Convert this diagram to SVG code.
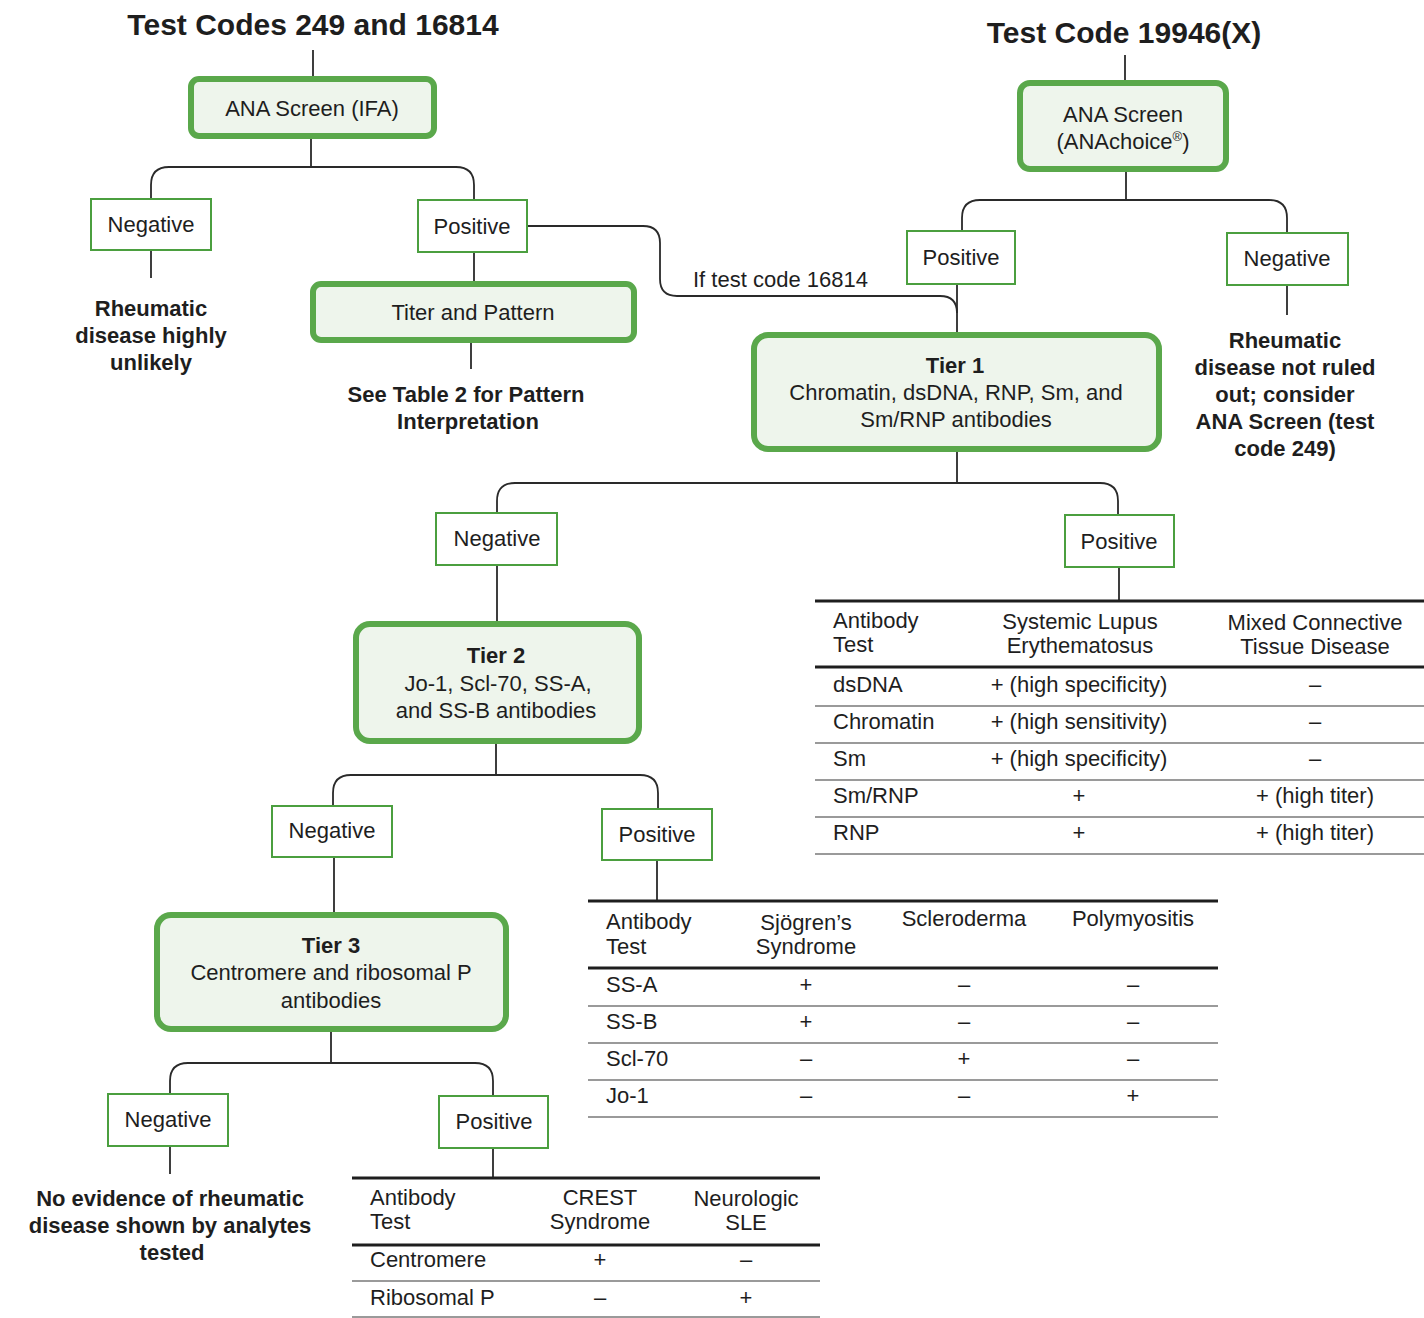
<svg xmlns="http://www.w3.org/2000/svg" width="1424" height="1318" viewBox="0 0 1424 1318">
<style>
text{font-family:"Liberation Sans",Arial,sans-serif;fill:#1e1e1e}
.t{font-size:22px;text-anchor:middle}
.tl{font-size:22px}
.b{font-weight:bold}
.h{font-size:30px;font-weight:bold;text-anchor:middle}
.big{fill:#eef5ec;stroke:#5aa84b;stroke-width:6}
.sm{fill:#ffffff;stroke:#4b9f3f;stroke-width:2}
.c{fill:none;stroke:#2a2a2a;stroke-width:1.8}
.tk{stroke:#1e1e1e;stroke-width:3}
.tn{stroke:#9a9a9a;stroke-width:2}
</style>
<rect width="1424" height="1318" fill="#ffffff"/>
<text class="h" x="313" y="35">Test Codes 249 and 16814</text>
<text class="h" x="1124" y="43">Test Code 19946(X)</text>
<g id="connectors">
<path class="c" d="M313,50V78"/>
<path class="c" d="M311,137V167M151,199V185Q151,167 169,167H456Q474,167 474,185V200"/>
<path class="c" d="M151,250V278"/>
<path class="c" d="M474,252V283"/>
<path class="c" d="M471,341V369"/>
<path class="c" d="M527,226H643Q660,226 660,243V279Q660,296 677,296H940Q957,296 957,313"/>
<path class="c" d="M1125,55V82"/>
<path class="c" d="M1126,170V200M962,231V218Q962,200 980,200H1269Q1287,200 1287,218V233"/>
<path class="c" d="M1287,285V315"/>
<path class="c" d="M957,284V333"/>
<path class="c" d="M957,450V483M497,513V501Q497,483 515,483H1100Q1118,483 1118,501V515"/>
<path class="c" d="M1119,567V600"/>
<path class="c" d="M497,565V622"/>
<path class="c" d="M496,742V775M333,806V793Q333,775 351,775H640Q658,775 658,793V809"/>
<path class="c" d="M657,860V900"/>
<path class="c" d="M334,857V913"/>
<path class="c" d="M331,1030V1063M170,1094V1081Q170,1063 188,1063H475Q493,1063 493,1081V1096"/>
<path class="c" d="M170,1146V1174"/>
<path class="c" d="M493,1148V1177"/>
</g>
<g id="ana-ifa"><rect class="big" x="191" y="79" width="243" height="57" rx="8"/><text class="t" x="312" y="116">ANA Screen (IFA)</text></g>
<g id="neg1"><rect class="sm" x="91" y="199" width="120" height="51"/><text class="t" x="151" y="232">Negative</text></g>
<g id="pos1"><rect class="sm" x="418" y="200" width="109" height="52"/><text class="t" x="472" y="234">Positive</text></g>
<g id="out1"><text class="t b" x="151" y="316">Rheumatic</text><text class="t b" x="151" y="343">disease highly</text><text class="t b" x="151" y="370">unlikely</text></g>
<g id="titer"><rect class="big" x="313" y="284" width="321" height="56" rx="8"/><text class="t" x="473" y="320">Titer and Pattern</text></g>
<g id="see-table"><text class="t b" x="466" y="402">See Table 2 for Pattern</text><text class="t b" x="468" y="429">Interpretation</text></g>
<g id="label-16814"><text class="tl" x="693" y="287">If test code 16814</text></g>
<g id="ana-choice"><rect class="big" x="1020" y="83" width="206" height="86" rx="10"/><text class="t" x="1123" y="122">ANA Screen</text><text class="t" x="1123" y="149">(ANAchoice<tspan font-size="13" dy="-8">®</tspan><tspan dy="8">)</tspan></text></g>
<g id="pos2"><rect class="sm" x="907" y="231" width="108" height="53"/><text class="t" x="961" y="265">Positive</text></g>
<g id="neg2"><rect class="sm" x="1227" y="233" width="121" height="52"/><text class="t" x="1287" y="266">Negative</text></g>
<g id="out2"><text class="t b" x="1285" y="348">Rheumatic</text><text class="t b" x="1285" y="375">disease not ruled</text><text class="t b" x="1285" y="402">out; consider</text><text class="t b" x="1285" y="429">ANA Screen (test</text><text class="t b" x="1285" y="456">code 249)</text></g>
<g id="tier1"><rect class="big" x="754" y="335" width="405" height="114" rx="14"/><text class="t b" x="955" y="373">Tier 1</text><text class="t" x="956" y="400">Chromatin, dsDNA, RNP, Sm, and</text><text class="t" x="956" y="427">Sm/RNP antibodies</text></g>
<g id="neg3"><rect class="sm" x="436" y="513" width="121" height="52"/><text class="t" x="497" y="546">Negative</text></g>
<g id="pos3"><rect class="sm" x="1065" y="515" width="109" height="52"/><text class="t" x="1119" y="549">Positive</text></g>
<g id="table1">
<line class="tk" x1="815" y1="601" x2="1424" y2="601"/>
<line class="tk" x1="815" y1="667" x2="1424" y2="667"/>
<line class="tn" x1="815" y1="706" x2="1424" y2="706"/>
<line class="tn" x1="815" y1="743" x2="1424" y2="743"/>
<line class="tn" x1="815" y1="780" x2="1424" y2="780"/>
<line class="tn" x1="815" y1="817" x2="1424" y2="817"/>
<line class="tn" x1="815" y1="854" x2="1424" y2="854"/>
<text class="tl" x="833" y="628">Antibody</text><text class="tl" x="833" y="652">Test</text>
<text class="t" x="1080" y="629">Systemic Lupus</text><text class="t" x="1080" y="653">Erythematosus</text>
<text class="t" x="1315" y="630">Mixed Connective</text><text class="t" x="1315" y="654">Tissue Disease</text>
<text class="tl" x="833" y="692">dsDNA</text><text class="t" x="1079" y="692">+ (high specificity)</text><text class="t" x="1315" y="692">–</text>
<text class="tl" x="833" y="729">Chromatin</text><text class="t" x="1079" y="729">+ (high sensitivity)</text><text class="t" x="1315" y="729">–</text>
<text class="tl" x="833" y="766">Sm</text><text class="t" x="1079" y="766">+ (high specificity)</text><text class="t" x="1315" y="766">–</text>
<text class="tl" x="833" y="803">Sm/RNP</text><text class="t" x="1079" y="803">+</text><text class="t" x="1315" y="803">+ (high titer)</text>
<text class="tl" x="833" y="840">RNP</text><text class="t" x="1079" y="840">+</text><text class="t" x="1315" y="840">+ (high titer)</text>
</g>
<g id="tier2"><rect class="big" x="356" y="624" width="283" height="117" rx="14"/><text class="t b" x="496" y="663">Tier 2</text><text class="t" x="498" y="691">Jo-1, Scl-70, SS-A,</text><text class="t" x="496" y="718">and SS-B antibodies</text></g>
<g id="neg4"><rect class="sm" x="272" y="806" width="120" height="51"/><text class="t" x="332" y="838">Negative</text></g>
<g id="pos4"><rect class="sm" x="602" y="809" width="110" height="51"/><text class="t" x="657" y="842">Positive</text></g>
<g id="table2">
<line class="tk" x1="588" y1="901" x2="1218" y2="901"/>
<line class="tk" x1="588" y1="968" x2="1218" y2="968"/>
<line class="tn" x1="588" y1="1006" x2="1218" y2="1006"/>
<line class="tn" x1="588" y1="1043" x2="1218" y2="1043"/>
<line class="tn" x1="588" y1="1080" x2="1218" y2="1080"/>
<line class="tn" x1="588" y1="1117" x2="1218" y2="1117"/>
<text class="tl" x="606" y="929">Antibody</text><text class="tl" x="606" y="954">Test</text>
<text class="t" x="806" y="930">Sjögren’s</text><text class="t" x="806" y="954">Syndrome</text>
<text class="t" x="964" y="926">Scleroderma</text>
<text class="t" x="1133" y="926">Polymyositis</text>
<text class="tl" x="606" y="992">SS-A</text><text class="t" x="806" y="992">+</text><text class="t" x="964" y="992">–</text><text class="t" x="1133" y="992">–</text>
<text class="tl" x="606" y="1029">SS-B</text><text class="t" x="806" y="1029">+</text><text class="t" x="964" y="1029">–</text><text class="t" x="1133" y="1029">–</text>
<text class="tl" x="606" y="1066">Scl-70</text><text class="t" x="806" y="1066">–</text><text class="t" x="964" y="1066">+</text><text class="t" x="1133" y="1066">–</text>
<text class="tl" x="606" y="1103">Jo-1</text><text class="t" x="806" y="1103">–</text><text class="t" x="964" y="1103">–</text><text class="t" x="1133" y="1103">+</text>
</g>
<g id="tier3"><rect class="big" x="157" y="915" width="349" height="114" rx="14"/><text class="t b" x="331" y="953">Tier 3</text><text class="t" x="331" y="980">Centromere and ribosomal P</text><text class="t" x="331" y="1008">antibodies</text></g>
<g id="neg5"><rect class="sm" x="108" y="1094" width="120" height="52"/><text class="t" x="168" y="1127">Negative</text></g>
<g id="pos5"><rect class="sm" x="439" y="1096" width="109" height="52"/><text class="t" x="494" y="1129">Positive</text></g>
<g id="out3"><text class="t b" x="170" y="1206">No evidence of rheumatic</text><text class="t b" x="170" y="1233">disease shown by analytes</text><text class="t b" x="172" y="1260">tested</text></g>
<g id="table3">
<line class="tk" x1="352" y1="1178" x2="820" y2="1178"/>
<line class="tk" x1="352" y1="1245" x2="820" y2="1245"/>
<line class="tn" x1="352" y1="1281" x2="820" y2="1281"/>
<line class="tn" x1="352" y1="1317" x2="820" y2="1317"/>
<text class="tl" x="370" y="1205">Antibody</text><text class="tl" x="370" y="1229">Test</text>
<text class="t" x="600" y="1205">CREST</text><text class="t" x="600" y="1229">Syndrome</text>
<text class="t" x="746" y="1206">Neurologic</text><text class="t" x="746" y="1230">SLE</text>
<text class="tl" x="370" y="1267">Centromere</text><text class="t" x="600" y="1267">+</text><text class="t" x="746" y="1267">–</text>
<text class="tl" x="370" y="1305">Ribosomal P</text><text class="t" x="600" y="1305">–</text><text class="t" x="746" y="1305">+</text>
</g>
</svg>
